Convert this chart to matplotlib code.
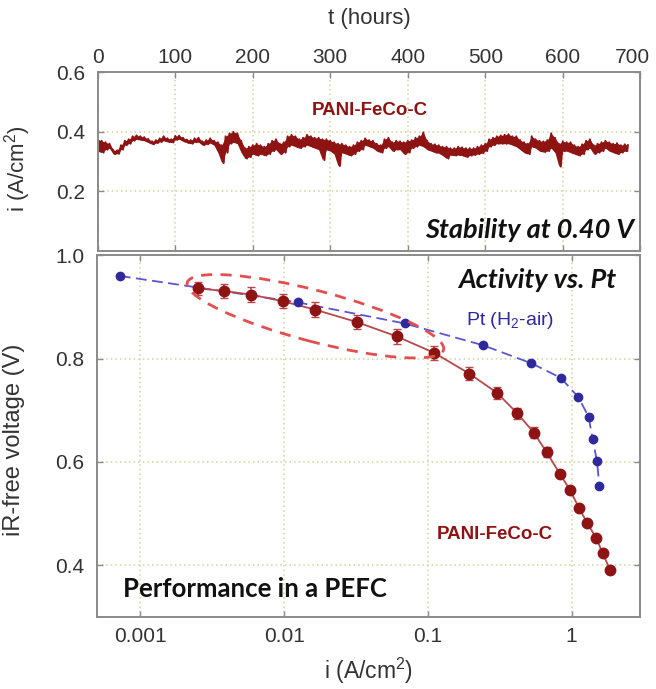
import numpy as np
import matplotlib
matplotlib.use("Agg")
import matplotlib.pyplot as plt
from matplotlib.patches import Ellipse
from matplotlib.transforms import ScaledTranslation

plt.rcParams['font.family'] = ['Liberation Sans', 'DejaVu Sans']
plt.rcParams['mathtext.fontset'] = 'custom'
plt.rcParams['mathtext.rm'] = 'Liberation Sans'
plt.rcParams['mathtext.it'] = 'Liberation Sans:italic'

# --- stability test: current at 0.40 V vs time (upper / lower edge of the noisy trace)
t_hours = [0, 5, 10, 15, 20, 25, 30, 35, 40, 45, 50, 55, 60, 65, 70, 75, 80, 85, 90, 95,
           100, 105, 110, 115, 120, 125, 130, 135, 140, 145, 150, 155, 160, 165, 170,
           175, 180, 185, 190, 195, 200, 205, 210, 215, 220, 225, 230, 235, 240, 245,
           250, 255, 260, 265, 270, 275, 280, 285, 290, 295, 300, 305, 310, 315, 320,
           325, 330, 335, 340, 345, 350, 355, 360, 365, 370, 375, 380, 385, 390, 395,
           400, 405, 410, 415, 420, 425, 430, 435, 440, 445, 450, 455, 460, 465, 470,
           475, 480, 485, 490, 495, 500, 505, 510, 515, 520, 525, 530, 535, 540, 545,
           550, 555, 560, 565, 570, 575, 580, 585, 590, 595, 600, 605, 610, 615, 620,
           625, 630, 635, 640, 645, 650, 655, 660, 665, 670, 675, 680, 684]
i_hi = [0.375, 0.370, 0.365, 0.360, 0.338, 0.338, 0.355, 0.370, 0.375, 0.385, 0.388, 0.385,
        0.382, 0.376, 0.368, 0.372, 0.378, 0.385, 0.378, 0.375, 0.386, 0.387, 0.380, 0.374,
        0.372, 0.378, 0.380, 0.368, 0.372, 0.378, 0.370, 0.365, 0.355, 0.385, 0.395,
        0.400, 0.395, 0.370, 0.345, 0.350, 0.355, 0.360, 0.355, 0.350, 0.360, 0.370, 0.375,
        0.360, 0.365, 0.385, 0.390, 0.385, 0.375, 0.380, 0.390, 0.385, 0.380, 0.380, 0.375,
        0.375, 0.370, 0.365, 0.360, 0.360, 0.355, 0.350, 0.355, 0.365, 0.370, 0.378, 0.372,
        0.370, 0.360, 0.355, 0.375, 0.380, 0.365, 0.370, 0.368, 0.365, 0.370, 0.372, 0.380,
        0.385, 0.398, 0.370, 0.360, 0.358, 0.355, 0.350, 0.350, 0.345, 0.345, 0.350, 0.348,
        0.345, 0.345, 0.345, 0.350, 0.355, 0.360, 0.375, 0.380, 0.385, 0.388, 0.390, 0.392,
        0.385, 0.385, 0.372, 0.365, 0.360, 0.385, 0.375, 0.370, 0.368, 0.372, 0.395, 0.380,
        0.360, 0.368, 0.365, 0.365, 0.355, 0.350, 0.358, 0.370, 0.375, 0.355, 0.360, 0.365,
        0.370, 0.365, 0.360, 0.362, 0.355, 0.358, 0.355]
i_lo = [0.335, 0.330, 0.340, 0.345, 0.325, 0.326, 0.340, 0.355, 0.360, 0.370, 0.375, 0.372,
        0.370, 0.364, 0.358, 0.362, 0.366, 0.370, 0.366, 0.364, 0.373, 0.375, 0.368, 0.363,
        0.360, 0.365, 0.365, 0.355, 0.358, 0.362, 0.355, 0.330, 0.295, 0.330, 0.360,
        0.365, 0.360, 0.330, 0.310, 0.315, 0.325, 0.320, 0.325, 0.320, 0.325, 0.335, 0.340,
        0.325, 0.330, 0.350, 0.355, 0.350, 0.345, 0.350, 0.355, 0.350, 0.345, 0.340, 0.305,
        0.340, 0.335, 0.325, 0.285, 0.330, 0.325, 0.320, 0.325, 0.335, 0.340, 0.355, 0.350,
        0.345, 0.335, 0.330, 0.345, 0.350, 0.335, 0.340, 0.340, 0.325, 0.330, 0.345, 0.350,
        0.355, 0.350, 0.340, 0.335, 0.330, 0.328, 0.320, 0.310, 0.322, 0.320, 0.322, 0.320,
        0.315, 0.320, 0.322, 0.325, 0.328, 0.335, 0.350, 0.355, 0.360, 0.360, 0.360, 0.360,
        0.355, 0.350, 0.340, 0.330, 0.325, 0.350, 0.345, 0.335, 0.332, 0.335, 0.345, 0.330,
        0.283, 0.335, 0.335, 0.330, 0.325, 0.320, 0.325, 0.340, 0.345, 0.325, 0.330, 0.335,
        0.345, 0.335, 0.330, 0.325, 0.330, 0.335, 0.335]

# --- polarization curves (iR-free)
pt_i = [0.00072, 0.0124, 0.069, 0.241, 0.525, 0.838, 1.11, 1.31, 1.40, 1.50, 1.56]
pt_v = [0.960, 0.909, 0.868, 0.826, 0.791, 0.763, 0.726, 0.688, 0.644, 0.601, 0.554]

pani_i = [0.00252, 0.0038, 0.00585, 0.0098, 0.0163, 0.0319, 0.0607, 0.111, 0.194, 0.302,
          0.419, 0.545, 0.669, 0.828, 0.973, 1.125, 1.288, 1.48, 1.64, 1.86]
pani_v = [0.936, 0.931, 0.924, 0.911, 0.895, 0.871, 0.843, 0.811, 0.771, 0.734,
          0.694, 0.657, 0.619, 0.577, 0.546, 0.511, 0.481, 0.453, 0.424, 0.390]
pani_err = [0.013, 0.013, 0.014, 0.014, 0.014, 0.014, 0.014, 0.013, 0.012, 0.012,
            0.011, 0.011, 0.010, 0.006, 0.0, 0.0, 0.0, 0.0, 0.0, 0.0]

dark_red = '#8e1414'
line_red = '#b8474a'
pt_blue = '#2f2a9c'
line_blue = '#5a56cf'
grid_col = '#cfd29a'
frame_col = '#8a8a8a'
txt_col = '#333333'

fig = plt.figure(figsize=(6.56, 6.89), dpi=100)
ax1 = fig.add_axes([0.149, 0.636, 0.827, 0.259])
ax2 = fig.add_axes([0.148, 0.1045, 0.828, 0.525])

for ax in (ax1, ax2):
    for s in ax.spines.values():
        s.set_color(frame_col)
        s.set_linewidth(1.4)
    ax.tick_params(direction='in', length=4, width=1, color=frame_col,
                   labelsize=15, labelcolor=txt_col, top=True, right=True)
    ax.grid(True, linestyle=(0, (1, 2)), color=grid_col, linewidth=1.1)
    ax.set_axisbelow(True)

# upper panel: band between edges plus a zig-zag so the trace looks noisy and thick
tt, ii = [], []
for k in range(len(t_hours)):
    tt += [t_hours[k], t_hours[k] + 2.5]
    ii += [i_hi[k], i_lo[k]]
ax1.fill_between(t_hours, i_lo, i_hi, color=dark_red, lw=0)
ax1.plot(tt[:-1], ii[:-1], color=dark_red, lw=1.4)
ax1.set_xlim(0, 700)
ax1.set_ylim(0, 0.6)
ax1.set_xticks([0, 100, 200, 300, 400, 500, 600, 700])
ax1.set_yticks([0.2, 0.4, 0.6])
ax1.xaxis.tick_top()
ax1.tick_params(axis='x', bottom=True, top=True, labelbottom=False, labeltop=True, pad=4)
ax1.tick_params(axis='y', pad=9)
ax1.xaxis.get_major_ticks()[-1].label2.set_transform(
    ax1.get_xaxis_text2_transform(4)[0] + ScaledTranslation(-8 / 100, 0, fig.dpi_scale_trans))
ax1.xaxis.set_label_position('top')
ax1.set_xlabel('t (hours)', fontsize=16, color=txt_col, labelpad=17)
ax1.set_ylabel('i (A/cm$^2$)', fontsize=16, color=txt_col)
ax1.yaxis.set_label_coords(-0.12, 0.46)
ax1.text(351, 0.473, 'PANI-FeCo-C', color=dark_red, fontsize=13.5, fontweight='bold',
         ha='center', va='center')
ax1.text(0.988, 0.115, 'Stability at 0.40 V', transform=ax1.transAxes, ha='right', va='center',
         fontsize=19.5, fontweight='bold', fontstyle='italic', family='Lato', color='#111111')

# lower panel
ax2.plot(pt_i, pt_v, color=line_blue, lw=1.3, dashes=(6, 3), zorder=2)
ax2.plot(pt_i, pt_v, 'o', color=pt_blue, ms=6, zorder=3)
ax2.plot(pani_i, pani_v, color=line_red, lw=1.3, zorder=2)
ax2.errorbar(pani_i, pani_v, yerr=pani_err, fmt='o', color=dark_red, ms=7.5,
             ecolor=line_red, elinewidth=1.2, capsize=3, zorder=4)
ax2.set_xscale('log')
ax2.set_xlim(0.0005, 3)
ax2.set_ylim(0.3, 1.0)
ax2.set_xticks([0.001, 0.01, 0.1, 1])
ax2.set_xticklabels(['0.001', '0.01', '0.1', '1'])
ax2.minorticks_off()
ax2.set_yticks([0.4, 0.6, 0.8, 1.0])
ax2.tick_params(axis='x', pad=7)
ax2.tick_params(axis='y', pad=9)
ax2.set_xlabel('i (A/cm$^2$)', fontsize=16.5, color=txt_col, labelpad=7)
ax2.set_ylabel('iR-free voltage (V)', fontsize=17, color=txt_col)
ax2.yaxis.set_label_coords(-0.133, 0.49)

# dashed ellipse around the kinetic region
ell_tr = fig.dpi_scale_trans + ScaledTranslation(0.0165, 0.882, ax2.transData)
ax2.add_patch(Ellipse((0, 0), 2.65, 0.51, angle=-14.7, fill=False, edgecolor='#e0504f',
                      linestyle=(0, (4, 3)), linewidth=2, transform=ell_tr, zorder=5))

ax2.text(0.955, 0.931, 'Activity vs. Pt', transform=ax2.transAxes, ha='right', va='center',
         fontsize=19.5, fontweight='bold', fontstyle='italic', family='Lato', color='#111111')
ax2.text(0.680, 0.820, 'Pt (H$_2$-air)', transform=ax2.transAxes, ha='left', va='center',
         fontsize=14, color=pt_blue)
ax2.text(0.626, 0.227, 'PANI-FeCo-C', transform=ax2.transAxes, ha='left', va='center',
         fontsize=13.5, fontweight='bold', color=dark_red)
ax2.text(0.048, 0.077, 'Performance in a PEFC', transform=ax2.transAxes, ha='left', va='center',
         fontsize=18.5, fontweight='bold', family='Lato', color='#111111')

fig.savefig('out.png', dpi=100)
